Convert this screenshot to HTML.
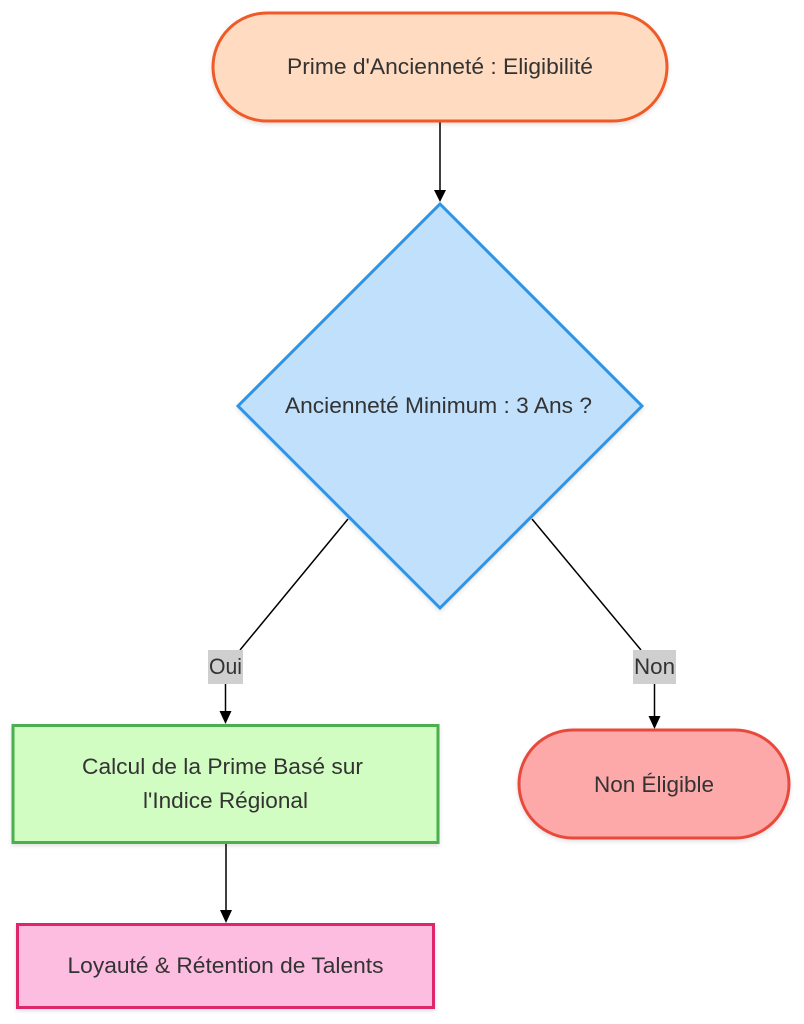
<!DOCTYPE html>
<html><head><meta charset="utf-8"><style>
html,body{margin:0;padding:0;background:#fff;width:804px;height:1024px;overflow:hidden}
svg{display:block}
text{font-family:"Liberation Sans",Arial,sans-serif;font-size:22px;fill:#333}
</style></head><body>
<svg width="804" height="1024" viewBox="0 0 804 1024" xmlns="http://www.w3.org/2000/svg">
<defs>
<marker id="ah" markerWidth="12" markerHeight="12" refX="6" refY="11" orient="auto" markerUnits="userSpaceOnUse" viewBox="0 0 12 12">
<path d="M0,0 L12,0 L6,12 Z" fill="#000" transform="rotate(0)"/>
</marker>
<filter id="sh" x="-10%" y="-10%" width="120%" height="130%"><feDropShadow dx="0" dy="2" stdDeviation="2" flood-color="#000" flood-opacity="0.12"/></filter>
</defs>

<!-- connectors -->
<line x1="440" y1="121" x2="440" y2="190" stroke="#000" stroke-width="1.5"/>
<path d="M434,190 L446,190 L440,202 Z" fill="#000"/>

<line x1="348" y1="519" x2="240" y2="650" stroke="#000" stroke-width="1.5"/>
<line x1="532" y1="519" x2="641" y2="650" stroke="#000" stroke-width="1.5"/>

<line x1="225.5" y1="684" x2="225.5" y2="712" stroke="#000" stroke-width="1.5"/>
<path d="M219.5,711 L231.5,711 L225.5,724 Z" fill="#000"/>
<line x1="654.5" y1="684" x2="654.5" y2="717" stroke="#000" stroke-width="1.5"/>
<path d="M648.5,716 L660.5,716 L654.5,729 Z" fill="#000"/>

<line x1="226" y1="843" x2="226" y2="911" stroke="#000" stroke-width="1.5"/>
<path d="M220,910 L232,910 L226,923 Z" fill="#000"/>

<!-- top stadium -->
<rect x="213" y="13" width="454" height="108" rx="54" ry="54" fill="#ffdcc1" stroke="#f05a28" stroke-width="3" filter="url(#sh)"/>
<text x="440" y="74" text-anchor="middle" textLength="306" lengthAdjust="spacingAndGlyphs">Prime d'Ancienneté : Eligibilité</text>

<!-- diamond -->
<path d="M440,204 L642,406 L440,608 L238,406 Z" fill="#c1e0fc" stroke="#2e95e6" stroke-width="3" stroke-linejoin="miter" filter="url(#sh)"/>
<text x="438.5" y="413" text-anchor="middle" textLength="307" lengthAdjust="spacingAndGlyphs">Ancienneté Minimum : 3 Ans ?</text>

<!-- labels -->
<rect x="208" y="650" width="35" height="34" fill="#cfcfcf"/>
<text x="225.5" y="674" text-anchor="middle" font-size="20" textLength="33" lengthAdjust="spacingAndGlyphs">Oui</text>
<rect x="633" y="650" width="43" height="34" fill="#cfcfcf"/>
<text x="654.5" y="674" text-anchor="middle" font-size="20" textLength="41" lengthAdjust="spacingAndGlyphs">Non</text>

<!-- green box -->
<rect x="13" y="725.5" width="425" height="117" fill="#d1fcc2" stroke="#4caf50" stroke-width="3" filter="url(#sh)"/>
<text x="222.5" y="774" text-anchor="middle" textLength="281" lengthAdjust="spacingAndGlyphs">Calcul de la Prime Basé sur</text>
<text x="225.5" y="808" text-anchor="middle" textLength="165" lengthAdjust="spacingAndGlyphs">l'Indice Régional</text>

<!-- red stadium -->
<rect x="519" y="730" width="270" height="108" rx="54" ry="54" fill="#fea9a9" stroke="#e84a3b" stroke-width="3" filter="url(#sh)"/>
<text x="654" y="792" text-anchor="middle" textLength="120" lengthAdjust="spacingAndGlyphs">Non Éligible</text>

<!-- pink box -->
<rect x="17.5" y="924.5" width="416" height="83" fill="#fdbde0" stroke="#e0286b" stroke-width="3" filter="url(#sh)"/>
<text x="225.5" y="973" text-anchor="middle" textLength="316" lengthAdjust="spacingAndGlyphs">Loyauté &amp; Rétention de Talents</text>
</svg>
</body></html>
